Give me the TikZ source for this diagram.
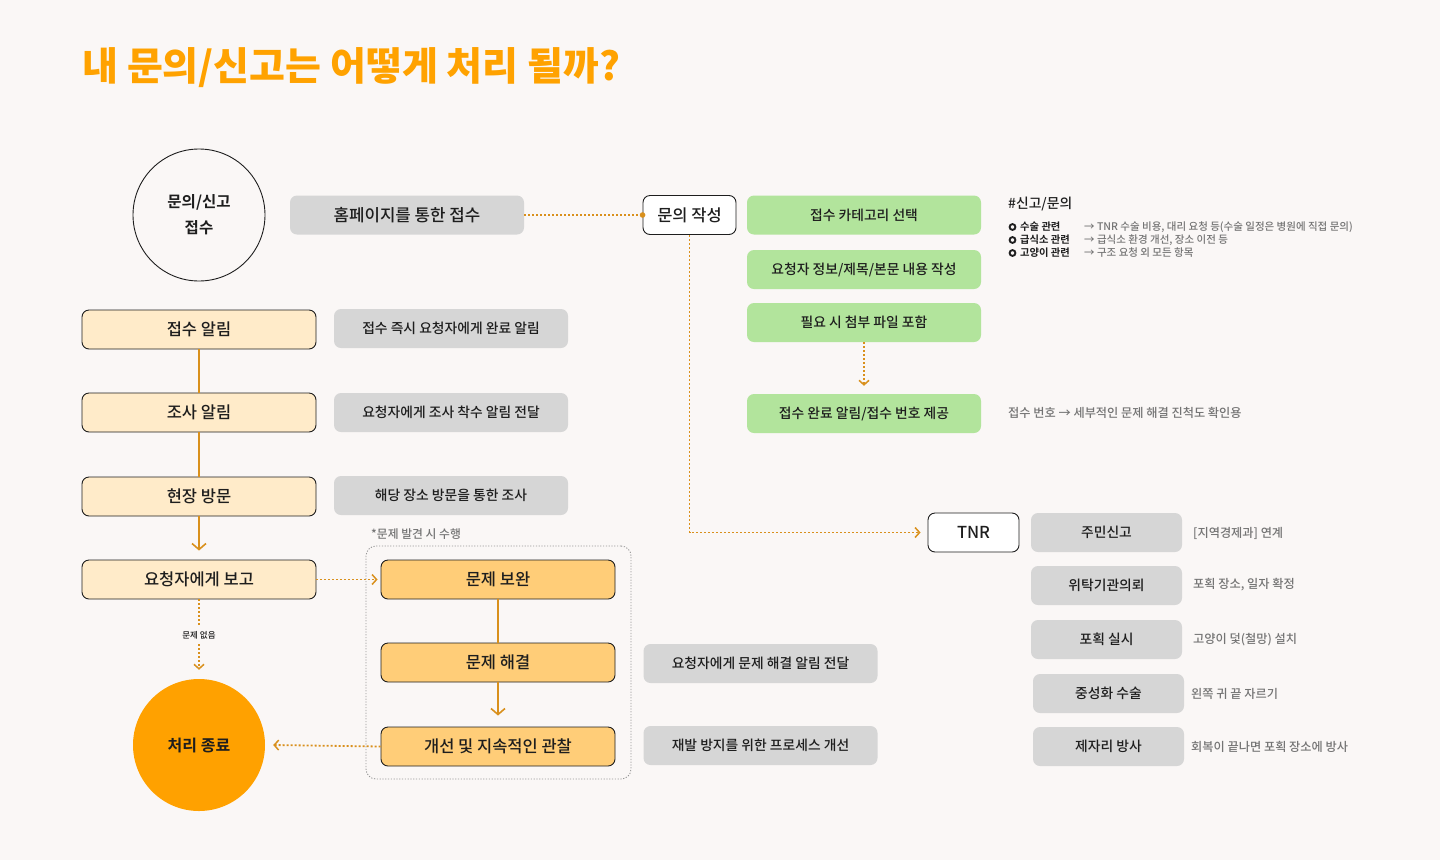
\documentclass[tikz,border=0pt]{standalone}
\usepackage{fontspec}
\setmainfont{Noto Sans CJK KR Medium}[BoldFont={Noto Sans CJK KR Bold}]
\newfontfamily\heavyfont{Noto Sans CJK KR Black}
\usetikzlibrary{arrows.meta}
\definecolor{bg}{HTML}{FAF7F6}
\definecolor{titleor}{HTML}{FFA200}
\definecolor{conn}{HTML}{D9901C}
\definecolor{cream}{HTML}{FFEBC9}
\definecolor{org}{HTML}{FFCD78}
\definecolor{orgc}{HTML}{FFA100}
\definecolor{greybox}{HTML}{D6D6D6}
\definecolor{lgreen}{HTML}{B2E49C}
\definecolor{txt}{HTML}{1E1E1E}
\definecolor{note}{HTML}{747474}
\begin{document}
\begin{tikzpicture}[x=1pt,y=-1pt,
  box/.style={rounded corners=7pt, minimum height=39pt, inner sep=0pt, text=txt},
  cbox/.style={box, draw=txt, line width=0.9pt, fill=cream, minimum width=234pt, font=\fontsize{16.5}{18}\selectfont},
  obox/.style={box, draw=txt, line width=0.9pt, fill=org, minimum width=234pt, font=\fontsize{16.5}{18}\selectfont},
  wbox/.style={box, draw=txt, line width=0.9pt, fill=white, font=\fontsize{16.5}{18}\selectfont},
  gbox/.style={box, fill=greybox, minimum width=234pt, font=\fontsize{13.8}{16}\selectfont},
  grbox/.style={box, fill=lgreen, minimum width=234pt, font=\fontsize{13.8}{16}\selectfont},
  tbox/.style={box, fill=greybox, minimum width=151pt, font=\fontsize{13.8}{16}\selectfont},
  lbl/.style={anchor=west, inner sep=0pt, text=note, font=\fontsize{12.2}{14}\selectfont},
  solidc/.style={draw=conn, line width=1.6pt},
  dotc/.style={draw=conn, line width=1.8pt, dash pattern=on 1.9pt off 2.1pt},
  tip/.style={-{Straight Barb[length=4.5pt,width=10pt,line width=1.5pt]}},
  bigtip/.style={-{Straight Barb[length=6pt,width=14pt,line width=1.6pt]}}
]
\useasboundingbox (0,0) rectangle (1440,860);
\fill[bg] (0,0) rectangle (1440,860);

% title
\node[anchor=west, inner sep=0pt, text=titleor, font=\fontsize{39}{44}\selectfont\heavyfont] (title) at (82,68) {내 문의/신고는 어떻게 처리 될까?};

% start circle
\node[circle, draw=txt, line width=0.9pt, minimum size=132pt, inner sep=0pt, align=center, text=txt,
      font=\fontsize{15.5}{26}\selectfont\bfseries] (start) at (199,215) {문의/신고\\접수};
\node[gbox, font=\fontsize{16.8}{18}\selectfont] (home) at (407,215) {홈페이지를 통한 접수};
\node[wbox, minimum width=93pt] (write) at (689.5,215) {문의 작성};

% green steps
\node[grbox] (g1) at (864,215) {접수 카테고리 선택};
\node[grbox] (g2) at (864,269.5) {요청자 정보/제목/본문 내용 작성};
\node[grbox] (g3) at (864,322.5) {필요 시 첨부 파일 포함};
\node[grbox] (g4) at (864,413.5) {접수 완료 알림/접수 번호 제공};

% category notes
\node[anchor=west, inner sep=0pt, text=txt, font=\fontsize{13.8}{16}\selectfont] (cat) at (1008,204) {\#신고/문의};
\draw[txt, line width=1.9pt] (1012.5,227) circle (2.9pt) (1012.5,240) circle (2.9pt) (1012.5,253) circle (2.9pt);
\node[anchor=west, inner sep=0pt, text=txt, font=\fontsize{10.3}{12}\selectfont\bfseries] (c1) at (1020,227) {수술 관련};
\node[anchor=west, inner sep=0pt, text=txt, font=\fontsize{10.3}{12}\selectfont\bfseries] (c2) at (1020,240) {급식소 관련};
\node[anchor=west, inner sep=0pt, text=txt, font=\fontsize{10.3}{12}\selectfont\bfseries] (c3) at (1020,253) {고양이 관련};
\node[anchor=west, inner sep=0pt, text=note, font=\fontsize{10.5}{12}\selectfont] (d1) at (1084,227) {→ TNR 수술 비용, 대리 요청 등(수술 일정은 병원에 직접 문의)};
\node[anchor=west, inner sep=0pt, text=note, font=\fontsize{10.5}{12}\selectfont] (d2) at (1084,240) {→ 급식소 환경 개선, 장소 이전 등};
\node[anchor=west, inner sep=0pt, text=note, font=\fontsize{10.5}{12}\selectfont] (d3) at (1084,253) {→ 구조 요청 외 모든 항목};
\node[lbl] (rcpt) at (1008,413) {접수 번호 → 세부적인 문제 해결 진척도 확인용};

% TNR branch
\node[wbox, minimum width=91pt] (tnr) at (973.5,532.5) {TNR};
\node[tbox] (t1) at (1106.5,532.5) {주민신고};
\node[tbox] (t2) at (1106.5,585.5) {위탁기관의뢰};
\node[tbox] (t3) at (1106.5,639.5) {포획 실시};
\node[tbox] (t4) at (1108.5,693.5) {중성화 수술};
\node[tbox] (t5) at (1108.5,746.5) {제자리 방사};
\node[lbl] (l1) at (1193,533) {[지역경제과] 연계};
\node[lbl] (l2) at (1193,585) {포획 장소, 일자 확정};
\node[lbl] (l3) at (1193,640) {고양이 덫(철망) 설치};
\node[lbl] (l4) at (1191,694) {왼쪽 귀 끝 자르기};
\node[lbl] (l5) at (1191,747) {회복이 끝나면 포획 장소에 방사};

% left column
\node[cbox] (n1) at (199,329.5) {접수 알림};
\node[cbox] (n2) at (199,412.5) {조사 알림};
\node[cbox] (n3) at (199,496.5) {현장 방문};
\node[cbox] (n4) at (199,579.5) {요청자에게 보고};
\node[gbox] (m1) at (451,328.5) {접수 즉시 요청자에게 완료 알림};
\node[gbox] (m2) at (451,412.5) {요청자에게 조사 착수 알림 전달};
\node[gbox] (m3) at (451,495.5) {해당 장소 방문을 통한 조사};

% problem group
\node[lbl, font=\fontsize{11.8}{14}\selectfont] (pnote) at (371,534) {*문제 발견 시 수행};
\node[draw=note!75, line width=0.9pt, dash pattern=on 1.2pt off 1.6pt, rounded corners=10pt,
      minimum width=265pt, minimum height=233pt, inner sep=0pt] (grp) at (498.5,662.5) {};
\node[obox] (o1) at (498,579.5) {문제 보완};
\node[obox] (o2) at (498,662.5) {문제 해결};
\node[obox] (o3) at (498,746.5) {개선 및 지속적인 관찰};
\node[gbox] (r1) at (760.5,663.5) {요청자에게 문제 해결 알림 전달};
\node[gbox] (r2) at (760.5,745.5) {재발 방지를 위한 프로세스 개선};

% end circle
\node[circle, fill=orgc, minimum size=132pt, inner sep=0pt, text=txt,
      font=\fontsize{16}{18}\selectfont\bfseries] (endc) at (199,745) {처리 종료};
\node[inner sep=2pt, text=txt, font=\fontsize{8.5}{10}\selectfont] (nolab) at (199,635) {문제 없음};

% connectors
\draw[dotc] (home.east) -- (write.west);
\fill[conn] (write.west) circle (2.8pt);
\draw[dotc, tip] (write.south) |- ([xshift=-7pt]tnr.west);
\draw[dotc, tip] (g3.south) -- ([yshift=8pt]g4.north);
\draw[solidc] (n1.south) -- (n2.north);
\draw[solidc] (n2.south) -- (n3.north);
\draw[solidc, bigtip] (n3.south) -- ([yshift=9pt]n4.north);
\draw[dotc, tip] (n4.east) -- ([xshift=-3pt]o1.west);
\draw[dotc] (n4.south) -- ([yshift=3pt]nolab.north);
\draw[dotc, tip] ([yshift=-3pt]nolab.south) -- ([yshift=9pt]endc.north);
\draw[solidc] (o1.south) -- (o2.north);
\draw[solidc, bigtip] (o2.south) -- ([yshift=11pt]o3.north);
\draw[dotc, tip] (o3.west) -- ([xshift=8pt]endc.east);
\end{tikzpicture}
\end{document}
